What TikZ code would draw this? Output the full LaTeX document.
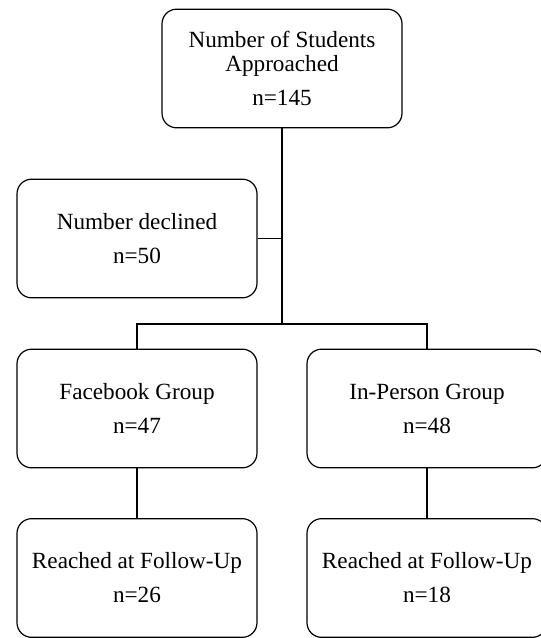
\documentclass[tikz,border=0pt]{standalone}
\usepackage{fontspec}
\setmainfont{Liberation Serif}
\usepackage{tikz}

\begin{document}
\begin{tikzpicture}[x=0.75pt,y=-0.75pt]
\tikzstyle{box}=[draw=black, line width=0.9pt, rounded corners=11pt, minimum width=180pt, minimum height=89pt, align=center, inner sep=0pt, font=\fontsize{17.4}{18}\selectfont]
\tikzstyle{link}=[draw=black, line width=0.9pt]
\useasboundingbox (0,0) rectangle (541,638);
\node [box] (approached) at (282,68.5) {Number of Students\\Approached\\[7.5pt]n=145};
\node [box] (declined) at (137,238.5) {Number declined\\[7.5pt]n=50};
\node [box] (facebook) at (137,408.5) {Facebook Group\\[7.5pt]n=47};
\node [box] (inperson) at (427,408.5) {In-Person Group\\[7.5pt]n=48};
\node [box] (fbfollow) at (137,578) {Reached at Follow-Up\\[7.5pt]n=26};
\node [box] (ipfollow) at (427,578) {Reached at Follow-Up\\[7.5pt]n=18};
\coordinate (split) at (282,324);
\draw [link] (approached.south) -- (split);
\draw [link] (declined.east) -- (declined.east -| split);
\draw [link] (facebook.north) |- (split) -| (inperson.north);
\draw [link] (facebook.south) -- (fbfollow.north);
\draw [link] (inperson.south) -- (ipfollow.north);
\end{tikzpicture}
\end{document}
